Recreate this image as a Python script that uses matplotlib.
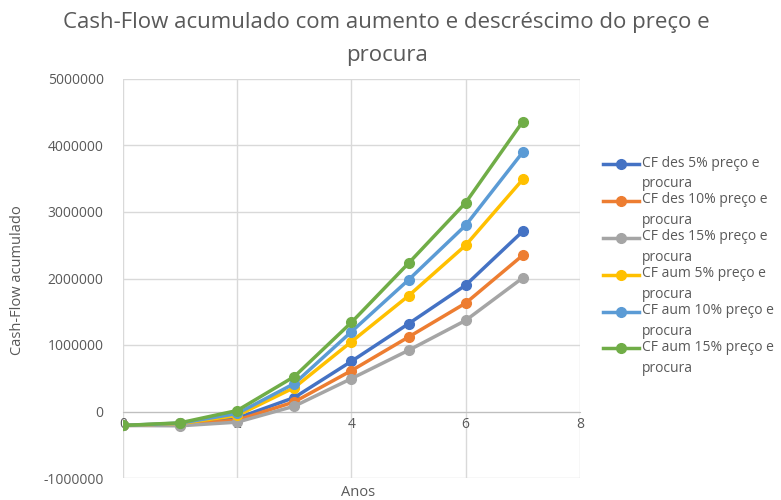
import matplotlib.pyplot as plt
from matplotlib.legend_handler import HandlerLine2D

plt.rcParams['font.family'] = ['Open Sans', 'DejaVu Sans']

# 数据
anos = [0, 1, 2, 3, 4, 5, 6, 7]
cf_des_5 = [-210000, -190000, -100000, 210000, 755000, 1320000, 1900000, 2710000]
cf_des_10 = [-210000, -200000, -130000, 145000, 615000, 1120000, 1630000, 2350000]
cf_des_15 = [-210000, -215000, -160000, 80000, 495000, 920000, 1370000, 2010000]
cf_aum_5 = [-210000, -180000, -60000, 360000, 1050000, 1740000, 2500000, 3490000]
cf_aum_10 = [-210000, -175000, -30000, 420000, 1200000, 1980000, 2800000, 3900000]
cf_aum_15 = [-210000, -170000, 15000, 525000, 1340000, 2230000, 3140000, 4360000]

labels = [
    "CF des 5% preço e\nprocura",
    "CF des 10% preço e\nprocura",
    "CF des 15% preço e\nprocura",
    "CF aum 5% preço e\nprocura",
    "CF aum 10% preço e\nprocura",
    "CF aum 15% preço e\nprocura",
]
series = [cf_des_5, cf_des_10, cf_des_15, cf_aum_5, cf_aum_10, cf_aum_15]
colors = ["#4472C4", "#ED7D31", "#A5A5A5", "#FFC000", "#5B9BD5", "#70AD47"]


class TopLineHandler(HandlerLine2D):
    """legenda: alinhar o símbolo com a primeira linha do texto"""
    def create_artists(self, legend, orig_handle, xdescent, ydescent, width, height, fontsize, trans):
        artists = super().create_artists(legend, orig_handle, xdescent, ydescent,
                                         width, height, fontsize, trans)
        for a in artists:
            a.set_ydata([y + 0.72 * fontsize for y in a.get_ydata()])
        return artists


fig = plt.figure(figsize=(7.81, 5.00), dpi=100)
ax = fig.add_axes([0.1575, 0.044, 0.585, 0.798])

lines = []
for vals, lab, col in zip(series, labels, colors):
    ln, = ax.plot(anos, vals, color=col, linewidth=2.5, marker='o', markersize=7, label=lab, zorder=3)
    lines.append(ln)

ax.set_xlim(0, 8)
ax.set_ylim(-1000000, 5000000)
ax.set_xticks([0, 2, 4, 6, 8])
ax.set_yticks(range(-1000000, 5000001, 1000000))
ax.set_yticklabels([str(v) for v in range(-1000000, 5000001, 1000000)])
ax.grid(True, color='#d9d9d9', linewidth=1, zorder=0)

# eixo horizontal no zero, como no Excel
for s in ['top', 'right', 'left']:
    ax.spines[s].set_visible(False)
ax.spines['bottom'].set_position(('data', 0))
ax.spines['bottom'].set_color('#bfbfbf')
ax.tick_params(length=0, labelsize=10, labelcolor='#595959')
ax.tick_params(axis='x', pad=4)
ax.tick_params(axis='y', pad=14)

fig.text(0.495, 0.955, "Cash-Flow acumulado com aumento e descréscimo do preço e",
         ha='center', va='center', fontsize=16, color='#595959')
fig.text(0.495, 0.888, "procura", ha='center', va='center', fontsize=16, color='#595959')
fig.text(0.023, 0.44, "Cash-Flow acumulado", rotation=90, ha='center', va='center',
         fontsize=10.5, color='#595959')
fig.text(0.458, 0.016, "Anos", ha='center', va='center', fontsize=10.5, color='#595959')

leg = fig.legend(loc='upper left', bbox_to_anchor=(0.765, 0.70), frameon=False,
                 fontsize=10, handlelength=2.6, handletextpad=0.2, labelspacing=0.1,
                 borderaxespad=0, handler_map={ln: TopLineHandler() for ln in lines})
for t in leg.get_texts():
    t.set_color('#595959')
    t.set_linespacing(1.5)

fig.savefig("out.png", dpi=100)
